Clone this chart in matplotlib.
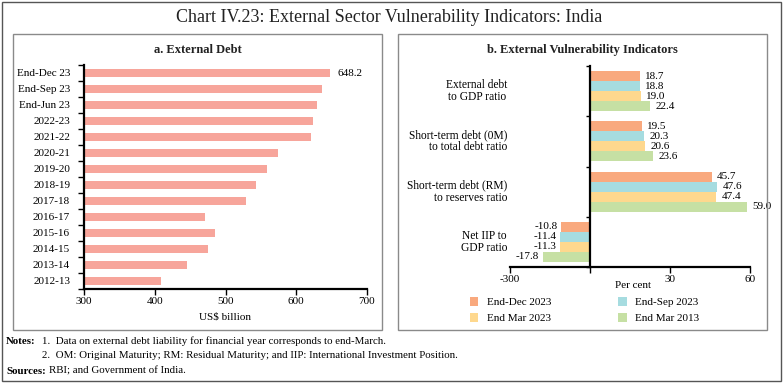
import matplotlib
matplotlib.use("Agg")
import matplotlib.pyplot as plt
from matplotlib.patches import Rectangle
from matplotlib.ticker import FixedLocator
import numpy as np

plt.rcParams['font.family'] = ['Liberation Serif', 'DejaVu Serif']

# ---------------- data ----------------
debt_periods = ["End-Dec 23", "End-Sep 23", "End-Jun 23", "2022-23", "2021-22", "2020-21",
                "2019-20", "2018-19", "2017-18", "2016-17", "2015-16", "2014-15",
                "2013-14", "2012-13"]
debt_values = [648.2, 636.6, 629.1, 624.3, 620.7, 573.7, 558.4, 543.1, 529.3, 471.3,
               484.8, 474.7, 446.2, 409.4]
debt_xticks = [300, 400, 500, 600, 700]

indicators = ["External debt\nto GDP ratio", "Short-term debt (0M)\nto total debt ratio",
              "Short-term debt (RM)\nto reserves ratio", "Net IIP to\nGDP ratio"]
series_names = ["End-Dec 2023", "End-Sep 2023", "End Mar 2023", "End Mar 2013"]
dec2023 = [18.7, 19.5, 45.7, -10.8]
sep2023 = [18.8, 20.3, 47.6, -11.4]
mar2023 = [19.0, 20.6, 47.4, -11.3]
mar2013 = [22.4, 23.6, 59.0, -17.8]
vuln_xticks = [-30, 0, 30, 60]
vuln_xticklabels = ["-300", "", "30", "60"]

# ---------------- figure ----------------
W, H = 783, 383
fig = plt.figure(figsize=(W / 100, H / 100), dpi=100)

def fx(px):
    return px / W

def fy(py):
    return 1 - py / H

def add_box(x0, y0, x1, y1, color="#8a8a8a", lw=1.0):
    fig.patches.append(Rectangle((fx(x0), fy(y1)), fx(x1 - x0), (y1 - y0) / H,
                                 transform=fig.transFigure, fill=False,
                                 edgecolor=color, linewidth=lw))

add_box(2, 2, 781, 381, color="#555555", lw=1.0)
add_box(13, 34, 382, 330)
add_box(398, 34, 767, 330)

fig.text(fx(389), fy(17), "Chart IV.23: External Sector Vulnerability Indicators: India",
         ha="center", va="center", fontsize=13, color="#222222")
fig.text(fx(198), fy(50), "a. External Debt", ha="center", va="center",
         fontsize=9, fontweight="bold", color="#222222")
fig.text(fx(582), fy(50), "b. External Vulnerability Indicators", ha="center", va="center",
         fontsize=9, fontweight="bold", color="#222222")

fs_t = 8

# ---------------- left panel ----------------
axL = fig.add_axes([fx(84), fy(289), fx(367 - 84), (289 - 65) / H])
n = len(debt_periods)
ypos = np.arange(n)
axL.barh(ypos, debt_values, height=0.45, color="#F7A59B", left=0)
axL.set_xlim(300, 700)
axL.set_ylim(n - 0.5, -0.5)
axL.set_xticks(debt_xticks)
axL.set_xticklabels([str(v) for v in debt_xticks], fontsize=fs_t)
axL.set_yticks(ypos)
axL.set_yticklabels(debt_periods, fontsize=fs_t)
axL.tick_params(axis="y", which="major", length=0, pad=10)
axL.yaxis.set_minor_locator(FixedLocator(np.arange(-0.5, n, 1.0)))
axL.tick_params(axis="y", which="minor", length=4, width=1, direction="out")
axL.tick_params(axis="x", length=4, width=1, direction="out", pad=2)
for s in ["top", "right"]:
    axL.spines[s].set_visible(False)
for s in ["left", "bottom"]:
    axL.spines[s].set_linewidth(1.6)
fig.text(fx(225), fy(317), "US$ billion", ha="center", va="center", fontsize=fs_t)
axL.text(debt_values[0] + 10, 0, f"{debt_values[0]:.1f}", va="center", ha="left", fontsize=fs_t)

# ---------------- right panel ----------------
axR = fig.add_axes([fx(510), fy(267), fx(750 - 510), (267 - 66) / H])
colors = ["#F9A97E", "#A6DCE0", "#FED88E", "#C6E0A4"]
series = [dec2023, sep2023, mar2023, mar2013]
g = np.arange(len(indicators))
bh = 0.2
handles = []
for i, (vals, c) in enumerate(zip(series, colors)):
    pos = g - 0.3 + i * bh
    bars = axR.barh(pos, vals, height=bh, color=c)
    handles.append(bars)
    for p, v in zip(pos, vals):
        if v >= 0:
            axR.text(v + 2.0, p, f"{v:.1f}", va="center", ha="left", fontsize=fs_t)
        else:
            axR.text(v - 1.2, p, f"{v:.1f}", va="center", ha="right", fontsize=fs_t)
axR.set_xlim(-30, 60)
axR.set_ylim(len(indicators) - 0.5, -0.5)
axR.set_xticks(vuln_xticks)
axR.set_xticklabels(vuln_xticklabels, fontsize=fs_t)
axR.tick_params(axis="x", length=4, width=1, direction="out", pad=2)
axR.set_yticks([])
axR.yaxis.set_minor_locator(FixedLocator(np.arange(-0.5, len(indicators), 1.0)))
axR.tick_params(axis="y", which="minor", length=3, width=1, direction="out")
axR.spines["left"].set_position(("data", 0))
for s in ["top", "right"]:
    axR.spines[s].set_visible(False)
for s in ["left", "bottom"]:
    axR.spines[s].set_linewidth(1.6)
fig.text(fx(633), fy(285), "Per cent", ha="center", va="center", fontsize=fs_t)
aligns = ["center", "right", "right", "center"]
for gi, (lab, al) in enumerate(zip(indicators, aligns)):
    axR.text(-0.01, gi, lab, transform=axR.get_yaxis_transform(), ha="right",
             va="center", multialignment=al, fontsize=8.3, linespacing=1.0)

order = [0, 2, 1, 3]
fig.legend([handles[i] for i in order], [series_names[i] for i in order],
           ncol=2, loc="upper left", bbox_to_anchor=(fx(470), fy(297)), frameon=False,
           fontsize=fs_t, handlelength=0.75, handleheight=0.9, handletextpad=0.8,
           columnspacing=6.0, labelspacing=0.5, borderpad=0, borderaxespad=0)

# ---------------- notes ----------------
fs = 7.8
fig.text(fx(6), fy(341), "Notes:", fontweight="bold", fontsize=fs, va="center")
fig.text(fx(42), fy(341), "1.  Data on external debt liability for financial year corresponds to end-March.",
         fontsize=fs, va="center")
fig.text(fx(42), fy(356), "2.  OM: Original Maturity; RM: Residual Maturity; and IIP: International Investment Position.",
         fontsize=fs, va="center")
fig.text(fx(6), fy(371), "Sources:", fontweight="bold", fontsize=fs, va="center")
fig.text(fx(49), fy(371), "RBI; and Government of India.", fontsize=fs, va="center")

fig.savefig("out.png", dpi=100)
